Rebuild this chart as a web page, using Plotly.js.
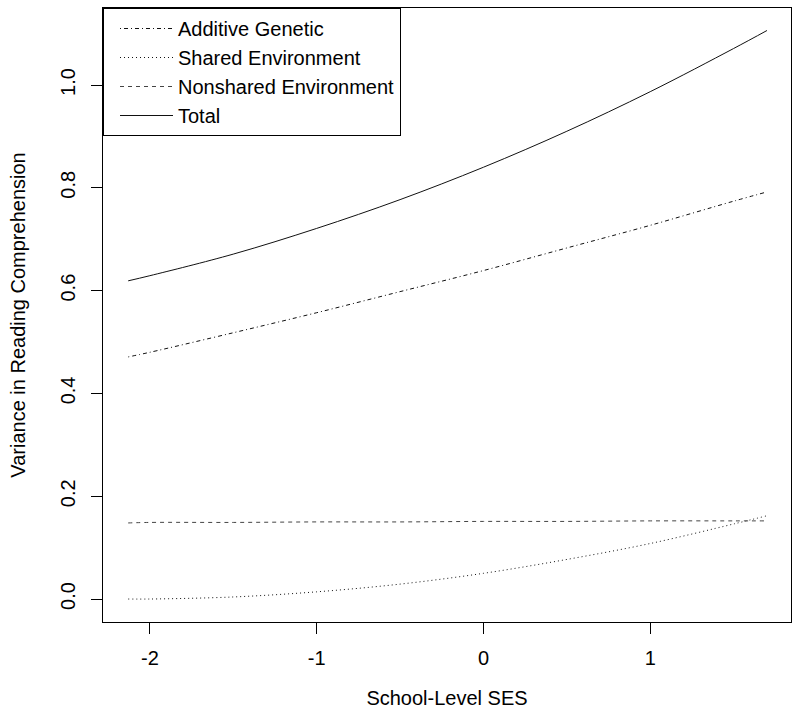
<!DOCTYPE html>
<html>
<head>
<meta charset="utf-8">
<script src="https://cdn.plot.ly/plotly-3.0.1.min.js"></script>
<style>html,body{margin:0;padding:0;background:#fff;}</style>
</head>
<body>
<div id="chart" style="width:800px;height:724px;"></div>
<script>
// School-level SES values at which the variance components were read
const ses = [-2.13, -2.0, -1.5, -1.0, -0.5, 0.0, 0.5, 1.0, 1.5, 1.7];
const additiveGenetic = [0.471, 0.480, 0.518, 0.557, 0.598, 0.639, 0.683, 0.727, 0.774, 0.792];
const sharedEnvironment = [0.000, 0.000, 0.004, 0.014, 0.029, 0.050, 0.077, 0.108, 0.146, 0.162];
const nonsharedEnvironment = [0.148, 0.149, 0.149, 0.150, 0.150, 0.151, 0.151, 0.152, 0.152, 0.152];
const total = [0.619, 0.629, 0.671, 0.721, 0.777, 0.840, 0.910, 0.987, 1.071, 1.106];
const seriesNames = ["Additive Genetic", "Shared Environment", "Nonshared Environment", "Total"];
const xTicks = [-2, -1, 0, 1];
const yTicks = [0.0, 0.2, 0.4, 0.6, 0.8, 1.0];
const yTickText = ["0.0", "0.2", "0.4", "0.6", "0.8", "1.0"];

const font = "Liberation Sans, Arial, sans-serif";
const fs = 20;

const traces = [
  {x: ses, y: additiveGenetic, name: seriesNames[0], line: {color: "#111", width: 1, dash: "1px,3px,4px,3px", shape: "spline"}},
  {x: ses, y: sharedEnvironment, name: seriesNames[1], line: {color: "#111", width: 1, dash: "1px,3px", shape: "spline"}},
  {x: ses, y: nonsharedEnvironment, name: seriesNames[2], line: {color: "#444", width: 1, dash: "4px,4px", shape: "spline"}},
  {x: ses, y: total, name: seriesNames[3], line: {color: "#111", width: 1, dash: "solid", shape: "spline"}}
].map(t => Object.assign({type: "scatter", mode: "lines", hoverinfo: "skip"}, t));

const layout = {
  width: 800, height: 724,
  margin: {l: 103, r: 9, t: 8, b: 102, pad: 0},
  paper_bgcolor: "#fff", plot_bgcolor: "#fff",
  font: {family: font, size: fs, color: "#000"},
  showlegend: true,
  legend: {
    x: 0, y: 1, xanchor: "left", yanchor: "top",
    bgcolor: "#fff", bordercolor: "#000", borderwidth: 1,
    font: {family: font, size: fs, color: "#000"},
    indentation: 11, itemwidth: 53, tracegroupgap: 0, traceorder: "normal"
  },
  xaxis: {
    range: [-2.281, 1.844],
    tickmode: "array", tickvals: xTicks, ticktext: xTicks.map(String),
    ticks: "outside", ticklen: 11, tickwidth: 1, tickcolor: "#000",
    showline: true, mirror: true, linecolor: "#000", linewidth: 1,
    showgrid: false, zeroline: false,
    ticklabelstandoff: 7,
    tickfont: {family: font, size: fs, color: "#000"},
    title: {text: "School-Level SES", font: {family: font, size: fs, color: "#000"}, standoff: 22},
    automargin: false
  },
  yaxis: {
    range: [-0.0447, 1.1498],
    tickmode: "array", tickvals: yTicks, ticktext: yTickText,
    tickangle: -90,
    ticks: "outside", ticklen: 11, tickwidth: 1, tickcolor: "#000",
    showline: true, mirror: true, linecolor: "#000", linewidth: 1,
    showgrid: false, zeroline: false,
    ticklabelstandoff: 8,
    tickfont: {family: font, size: fs, color: "#000"},
    title: {text: "Variance in Reading Comprehension", font: {family: font, size: fs, color: "#000"}, standoff: 26},
    automargin: false
  }
};

Plotly.newPlot("chart", traces, layout, {displayModeBar: false, staticPlot: true});
</script>
</body>
</html>
